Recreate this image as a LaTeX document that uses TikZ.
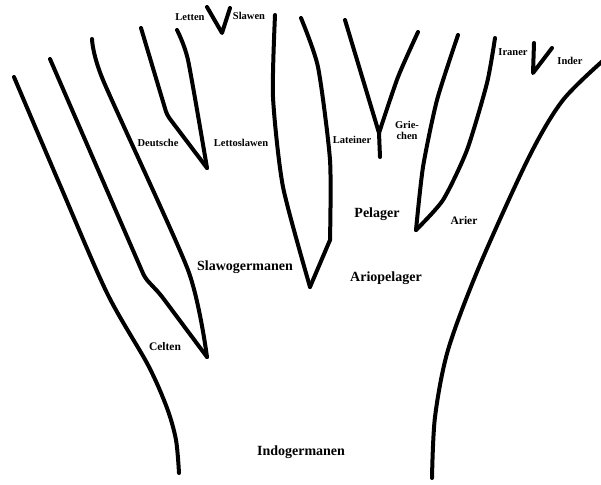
\documentclass[tikz,border=0pt]{standalone}
\usepackage{fontspec}
\setmainfont{Liberation Serif}
\begin{document}
\begin{tikzpicture}[x=1pt,y=-1pt,
  branch/.style={line width=4pt,line cap=round,line join=round},
  sm/.style={font=\bfseries\fontsize{10.5}{11}\selectfont, inner sep=0pt, align=center},
  md/.style={font=\bfseries\fontsize{11.5}{12}\selectfont, inner sep=0pt},
  big/.style={font=\bfseries\fontsize{14}{15}\selectfont, inner sep=0pt}]
\useasboundingbox[fill=white] (0,0) rectangle (601,484);
% junctions
\coordinate (celtJ) at (207,357);
\coordinate (deutJ) at (207,168);
\coordinate (lsJ) at (222,33);
\coordinate (sgJ) at (310,287);
\coordinate (lgJ) at (379,133);
\coordinate (lgS) at (380,157);
\coordinate (paJ) at (416,230);
\coordinate (iiJ) at (533,73);
% trunk left
\draw[branch] plot[smooth,tension=0.5] coordinates {(14,77) (60,185) (107,293) (148,365) (167,408) (176,440) (179,473)};
% Celten V
\draw[branch,rounded corners=5pt] (50,59) -- (145,278) -- (160,294) -- (celtJ);
\draw[branch] plot[smooth,tension=0.4] coordinates {(92,39) (103,80) (188,270) (celtJ)};
% Deutsche / Lettoslawen V
\draw[branch,rounded corners=4pt] (141,28) -- (167,115) -- (deutJ);
\draw[branch] plot[smooth,tension=0.4] coordinates {(177,30) (188,60) (deutJ)};
% Letten / Slawen V
\draw[branch] (207,7) -- (lsJ) -- (230,8);
% Slawogermanen
\draw[branch] plot[smooth,tension=0.4] coordinates {(275,15) (273,97) (283,187) (sgJ)};
\draw[branch] plot[smooth,tension=0.4] coordinates {(301,18) (318,67) (330,160) (330,240)};
\draw[branch] (330,240) -- (sgJ);
% Lateiner / Griechen
\draw[branch] (345,20) -- (lgJ) -- (lgS);
\draw[branch] plot[smooth,tension=0.4] coordinates {(418,32) (398,77) (lgJ)};
% Pelager / Arier
\draw[branch] plot[smooth,tension=0.4] coordinates {(458,35) (437,100) (423,167) (paJ)};
\draw[branch] plot[smooth,tension=0.4] coordinates {(495,38) (487,83) (467,150) (443,200) (paJ)};
% Iraner / Inder
\draw[branch] (534,43) -- (iiJ) -- (552,48);
% trunk right
\draw[branch] plot[smooth,tension=0.5] coordinates {(606,58) (563,100) (529,157) (479,267) (448,350) (435,417) (432,478)};
% labels
\node[sm] (letten) at (190,17) {Letten};
\node[sm] (slawen) at (249,16) {Slawen};
\node[sm] (deutsche) at (158,143) {Deutsche};
\node[sm] (lettoslawen) at (241,143) {Lettoslawen};
\node[sm] (lateiner) at (352,140) {Lateiner};
\node[sm] (griechen) at (407,130) {Grie-\\chen};
\node[sm] (iraner) at (513,52) {Iraner};
\node[sm] (inder) at (570,61) {Inder};
\node[big] (pelager) at (377,214) {Pelager};
\node[md] (arier) at (464,221) {Arier};
\node[big] (slawogermanen) at (245,267) {Slawogermanen};
\node[big] (ariopelager) at (386,278) {Ariopelager};
\node[md] (celten) at (165,347) {Celten};
\node[big] (indogermanen) at (301,452) {Indogermanen};
\end{tikzpicture}
\end{document}
